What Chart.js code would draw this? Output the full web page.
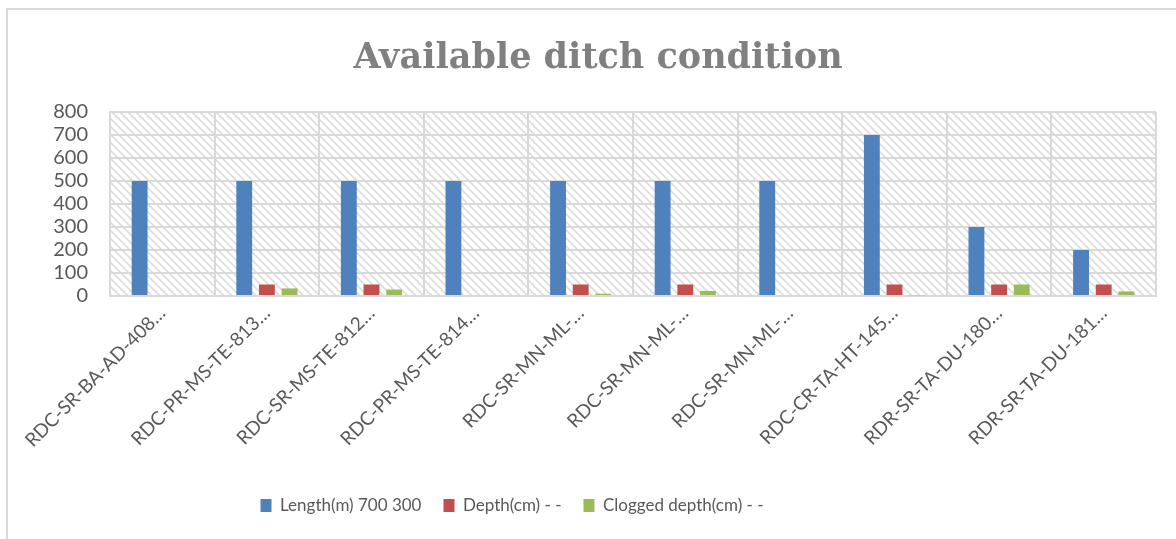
<!DOCTYPE html>
<html>
<head>
<meta charset="utf-8">
<script src="https://cdn.jsdelivr.net/npm/chart.js@4/dist/chart.umd.min.js"></script>
<style>
  html, body { margin: 0; padding: 0; background: #fff; }
  #frame { position: absolute; left: 6px; top: 8px; width: 1200px; height: 600px;
           border-left: 2px solid #d9d9d9; border-top: 2px solid #d9d9d9; }
  #chart { position: absolute; left: 0; top: 0; }
</style>
</head>
<body>
<div id="frame"></div>
<canvas id="chart" width="1176" height="539"></canvas>
<script>
const categories = [
    'RDC-SR-BA-AD-408…', 'RDC-PR-MS-TE-813…', 'RDC-SR-MS-TE-812…', 'RDC-PR-MS-TE-814…',
    'RDC-SR-MN-ML-…', 'RDC-SR-MN-ML-…', 'RDC-SR-MN-ML-…', 'RDC-CR-TA-HT-145…',
    'RDR-SR-TA-DU-180…', 'RDR-SR-TA-DU-181…'
];
const lengthM = [500, 500, 500, 500, 500, 500, 500, 700, 300, 200];
const depthCm = [0, 50, 50, 0, 50, 50, 0, 50, 50, 50];
const cloggedCm = [0, 33, 28, 0, 10, 22, 0, 3, 50, 20];
const yTicks = [0, 100, 200, 300, 400, 500, 600, 700, 800];

const gridColor = '#d9d9d9';
const textColor = '#595959';
const ctx = document.getElementById('chart').getContext('2d');

function hatchPattern() {
    const c = document.createElement('canvas');
    c.width = 8; c.height = 8;
    const g = c.getContext('2d');
    g.strokeStyle = '#dcdcdc';
    g.lineWidth = 1.6;
    g.beginPath();
    g.moveTo(-2, -2); g.lineTo(10, 10);
    g.moveTo(-2, 6); g.lineTo(2, 10);
    g.moveTo(6, -2); g.lineTo(10, 2);
    g.stroke();
    return ctx.createPattern(c, 'repeat');
}

const plotBackground = {
    id: 'plotBackground',
    afterLayout(chart) {
        // nudge title and legend to where they sit in the original
        chart.titleBlock.left += 40;
        chart.legend.left -= 66;
        chart.legend.right -= 66;
    },
    beforeDraw(chart) {
        const a = chart.chartArea;
        const c = chart.ctx;
        c.save();
        c.fillStyle = hatchPattern();
        c.fillRect(a.left, a.top, a.right - a.left, a.bottom - a.top);
        c.restore();
    }
};

new Chart(ctx, {
    type: 'bar',
    data: {
        labels: categories,
        datasets: [
            { label: 'Length(m) 700 300', data: lengthM, backgroundColor: '#4f81bd' },
            { label: 'Depth(cm) - -', data: depthCm, backgroundColor: '#c0504d' },
            { label: 'Clogged depth(cm) - -', data: cloggedCm, backgroundColor: '#9bbb59' }
        ]
    },
    options: {
        responsive: false,
        animation: false,
        categoryPercentage: 0.65,
        barPercentage: 0.7,
        layout: { padding: { left: 0, right: 20, top: 0, bottom: 15 } },
        plugins: {
            title: {
                display: true,
                text: 'Available ditch condition',
                color: '#808080',
                font: { family: 'DejaVu Serif', size: 35, weight: 'bold' },
                padding: { top: 38, bottom: 32 }
            },
            legend: {
                position: 'bottom',
                labels: {
                    color: textColor,
                    font: { family: 'Lato', size: 17 },
                    boxWidth: 11,
                    boxHeight: 13,
                    padding: 22
                }
            },
            tooltip: { enabled: false }
        },
        scales: {
            x: {
                grid: { color: gridColor, lineWidth: 2, drawTicks: false },
                border: { color: gridColor, width: 2 },
                ticks: {
                    color: textColor,
                    font: { family: 'Lato', size: 19 },
                    minRotation: 45,
                    maxRotation: 45,
                    autoSkip: false,
                    padding: 6
                },
                afterFit(scale) { scale.height = 179; }
            },
            y: {
                min: 0,
                max: 800,
                grid: { color: gridColor, lineWidth: 2, drawTicks: false },
                border: { color: gridColor, width: 2 },
                ticks: {
                    stepSize: 100,
                    autoSkip: false,
                    color: textColor,
                    font: { family: 'Lato', size: 20 },
                    padding: 22,
                    callback: (v) => yTicks.includes(v) ? String(v) : ''
                },
                afterFit(scale) { scale.width = 110; }
            }
        }
    },
    plugins: [plotBackground]
});
</script>
</body>
</html>
